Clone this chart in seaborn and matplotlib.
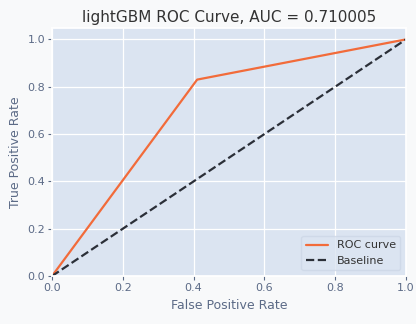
import matplotlib
matplotlib.use("Agg")
import matplotlib.pyplot as plt
import seaborn as sns
import pandas as pd

fpr = [0.0, 0.41, 1.0]
tpr = [0.0, 0.83, 1.0]
base_x = [0.0, 1.0]
base_y = [0.0, 1.0]
auc = 0.710005
title = f"lightGBM ROC Curve, AUC = {auc}"

sns.set_theme(style="darkgrid", rc={
    "axes.facecolor": "#dbe4f1",
    "figure.facecolor": "#f8f9fa",
    "grid.color": "white",
    "grid.linewidth": 0.9,
    "xtick.color": "#5b6a86",
    "ytick.color": "#5b6a86",
    "axes.labelcolor": "#5b6a86",
    "xtick.bottom": True,
    "ytick.left": True,
})
plt.rcParams['font.family'] = ['DejaVu Sans']

fig, ax = plt.subplots(figsize=(4.16, 3.24), dpi=100)
fig.subplots_adjust(left=0.125, right=0.976, top=0.915, bottom=0.148)

df = pd.DataFrame({"fpr": fpr, "tpr": tpr})
sns.lineplot(data=df, x="fpr", y="tpr", ax=ax, color="#f26b3a", lw=1.6,
             label="ROC curve", sort=False)
dfb = pd.DataFrame({"x": base_x, "y": base_y})
sns.lineplot(data=dfb, x="x", y="y", ax=ax, color="#2b2f38", lw=1.6,
             linestyle="--", label="Baseline")

ax.set_xlim(0, 1)
ax.set_ylim(0, 1.05)
ax.set_xticks([0, 0.2, 0.4, 0.6, 0.8, 1.0])
ax.set_yticks([0, 0.2, 0.4, 0.6, 0.8, 1.0])
ax.tick_params(labelsize=8, length=3, width=0.8, pad=2)
ax.set_xlabel("False Positive Rate", fontsize=9)
ax.set_ylabel("True Positive Rate", fontsize=9)
ax.set_title(title, fontsize=11, color="#333333", pad=4)
leg = ax.legend(loc="lower right", fontsize=8, frameon=True)
leg.get_frame().set_facecolor("#dbe4f1")
leg.get_frame().set_edgecolor("#cdd7e6")
for t in leg.get_texts():
    t.set_color("#333333")

fig.savefig("out.png", dpi=100)
